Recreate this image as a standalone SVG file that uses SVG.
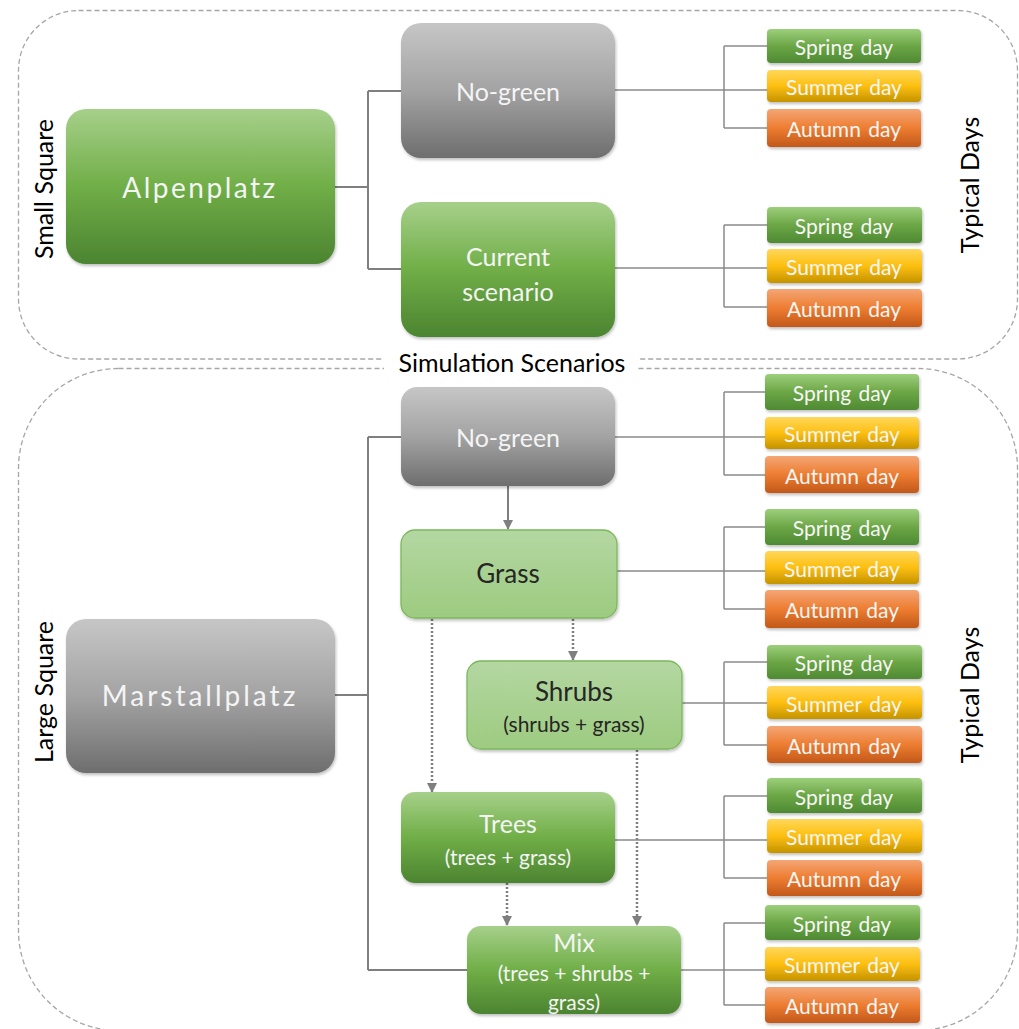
<svg xmlns="http://www.w3.org/2000/svg" width="1019" height="1029" viewBox="0 0 1019 1029">
<defs>
<linearGradient id="gGray" x1="0" y1="0" x2="0" y2="1"><stop offset="0" stop-color="#c6c6c6"/><stop offset="0.5" stop-color="#a3a3a3"/><stop offset="1" stop-color="#6e6e6e"/></linearGradient>
<linearGradient id="gGreen" x1="0" y1="0" x2="0" y2="1"><stop offset="0" stop-color="#a6d08a"/><stop offset="0.5" stop-color="#70ae47"/><stop offset="1" stop-color="#4c8431"/></linearGradient>
<linearGradient id="gLight" x1="0" y1="0" x2="0" y2="1"><stop offset="0" stop-color="#b4d7a2"/><stop offset="1" stop-color="#9dcb80"/></linearGradient>
<linearGradient id="gSpring" x1="0" y1="0" x2="0" y2="1"><stop offset="0" stop-color="#9dcf7c"/><stop offset="0.5" stop-color="#6ca646"/><stop offset="1" stop-color="#4e8a33"/></linearGradient>
<linearGradient id="gSummer" x1="0" y1="0" x2="0" y2="1"><stop offset="0" stop-color="#ffd75a"/><stop offset="0.5" stop-color="#fdbf10"/><stop offset="1" stop-color="#c49300"/></linearGradient>
<linearGradient id="gAutumn" x1="0" y1="0" x2="0" y2="1"><stop offset="0" stop-color="#f4a676"/><stop offset="0.5" stop-color="#ed7d31"/><stop offset="1" stop-color="#c2581a"/></linearGradient>
<filter id="sh" x="-10%" y="-10%" width="120%" height="130%"><feDropShadow dx="1" dy="2" stdDeviation="1.5" flood-color="#000" flood-opacity="0.25"/></filter>
<marker id="ah" viewBox="0 0 10 10" refX="9" refY="5" markerWidth="10" markerHeight="10" markerUnits="userSpaceOnUse" orient="auto"><path d="M0,0 L10,5 L0,10 Z" fill="#7f7f7f"/></marker>
</defs>
<style>
.cont{fill:none;stroke:#a6a6a6;stroke-width:1.3;stroke-dasharray:5 3}
.lbl{font-family:Lato,"Open Sans",sans-serif;fill:#000;font-size:25px;text-anchor:middle;dominant-baseline:central}
.big{font-family:Lato,"Open Sans",sans-serif;fill:#f4f4f4;font-size:28px;text-anchor:middle;dominant-baseline:central}
.wt{font-family:Lato,"Open Sans",sans-serif;fill:#f4f4f4;font-size:25px;text-anchor:middle;dominant-baseline:central}
.dk{font-family:Lato,"Open Sans",sans-serif;fill:#262626;font-size:26px;text-anchor:middle;dominant-baseline:central}
.sub{font-size:21px}
.day{font-family:Lato,"Open Sans",sans-serif;fill:#f6f6f6;font-size:21px;text-anchor:middle;dominant-baseline:central;word-spacing:2px}
.gray{fill:url(#gGray);filter:url(#sh)}
.green{fill:url(#gGreen);filter:url(#sh)}
.light{fill:url(#gLight);stroke:#7cb85c;stroke-width:1.3;filter:url(#sh)}
.sp{fill:url(#gSpring);filter:url(#sh)}
.su{fill:url(#gSummer);filter:url(#sh)}
.au{fill:url(#gAutumn);filter:url(#sh)}
.con{fill:none;stroke:#7f7f7f;stroke-width:2}
.br{fill:none;stroke:#8a8a8a;stroke-width:1.5}
.dot{fill:none;stroke:#7f7f7f;stroke-width:2.5;stroke-dasharray:2 2}
</style>

<g id="containers">
<rect class="cont" x="18.5" y="10.5" width="999" height="348.5" rx="60"/>
<rect class="cont" x="18.5" y="368.5" width="999" height="662" rx="100"/>
<rect x="384" y="350" width="254" height="27" fill="#fff"/>
</g>

<g id="labels">
<text class="lbl" transform="translate(43,189) rotate(-90)">Small Square</text>
<text class="lbl" transform="translate(43,692) rotate(-90)">Large Square</text>
<text class="lbl" transform="translate(969,185) rotate(-90)">Typical Days</text>
<text class="lbl" transform="translate(969,695) rotate(-90)">Typical Days</text>
<text class="lbl" x="512" y="362">Simulation Scenarios</text>
</g>

<g id="connectors">
<path class="con" d="M335,187 H368 M368,91 V269 M368,91 H401 M368,269 H401"/>
<path class="con" d="M335,695 H368 M368,437 V970 M368,437 H401 M368,970 H467"/>
<path class="con" d="M508,486 V529" marker-end="url(#ah)"/>
<path class="dot" d="M432,619 V792" marker-end="url(#ah)"/>
<path class="dot" d="M573,619 V660" marker-end="url(#ah)"/>
<path class="dot" d="M637,750 V925" marker-end="url(#ah)"/>
<path class="dot" d="M507,883 V925" marker-end="url(#ah)"/>
<path class="br" d="M615,90 H767 M724,46 V128 M724,46 H767 M724,128 H767"/>
<path class="br" d="M615,268 H767 M724,225 V307 M724,225 H767 M724,307 H767"/>
<path class="br" d="M615,437 H765 M724,392 V475 M724,392 H765 M724,475 H765"/>
<path class="br" d="M617,571 H765 M724,527 V609 M724,527 H765 M724,609 H765"/>
<path class="br" d="M682,703 H767 M724,662 V745 M724,662 H767 M724,745 H767"/>
<path class="br" d="M615,840 H767 M724,796 V878 M724,796 H767 M724,878 H767"/>
<path class="br" d="M681,970 H765 M724,923 V1005 M724,923 H765 M724,1005 H765"/>
</g>

<g id="node-alpenplatz"><rect class="green" x="66" y="109" width="269" height="155" rx="20"/><text class="big" x="200" y="187" letter-spacing="2.5">Alpenplatz</text></g>
<g id="node-nogreen-top"><rect class="gray" x="401" y="23" width="214" height="135" rx="20"/><text class="wt" x="508" y="91">No-green</text></g>
<g id="node-current"><rect class="green" x="401" y="202" width="214" height="135" rx="20"/><text class="wt" x="508" y="256">Current</text><text class="wt" x="508" y="291">scenario</text></g>

<g id="node-marstallplatz"><rect class="gray" x="66" y="619" width="269" height="154" rx="20"/><text class="big" x="200" y="695" letter-spacing="3">Marstallplatz</text></g>
<g id="node-nogreen-bottom"><rect class="gray" x="401" y="387" width="214" height="99" rx="16"/><text class="wt" x="508" y="437">No-green</text></g>
<g id="node-grass"><rect class="light" x="401" y="530" width="216" height="88" rx="14"/><text class="dk" x="508" y="573">Grass</text></g>
<g id="node-shrubs"><rect class="light" x="467" y="661" width="215" height="88" rx="14"/><text class="dk" x="574" y="691">Shrubs</text><text class="dk sub" x="574" y="723">(shrubs + grass)</text></g>
<g id="node-trees"><rect class="green" x="401" y="792" width="214" height="91" rx="14"/><text class="wt" x="508" y="823">Trees</text><text class="wt sub" x="508" y="856">(trees + grass)</text></g>
<g id="node-mix"><rect class="green" x="467" y="926" width="214" height="88" rx="14"/><text class="wt" x="574" y="942">Mix</text><text class="wt sub" x="574" y="972">(trees + shrubs +</text><text class="wt sub" x="574" y="1001">grass)</text></g>

<g id="days-1"><rect class="sp" x="767" y="29" width="154" height="34" rx="4"/><text class="day" x="844" y="46">Spring day</text><rect class="su" x="767" y="70" width="154" height="32" rx="4"/><text class="day" x="844" y="86">Summer day</text><rect class="au" x="767" y="109" width="154" height="38" rx="4"/><text class="day" x="844" y="128">Autumn day</text></g>
<g id="days-2"><rect class="sp" x="767" y="207" width="155" height="36" rx="4"/><text class="day" x="844" y="225">Spring day</text><rect class="su" x="767" y="249" width="155" height="34" rx="4"/><text class="day" x="844" y="266">Summer day</text><rect class="au" x="767" y="289" width="155" height="38" rx="4"/><text class="day" x="844" y="308">Autumn day</text></g>
<g id="days-3"><rect class="sp" x="765" y="374" width="154" height="36" rx="4"/><text class="day" x="842" y="392">Spring day</text><rect class="su" x="765" y="417" width="154" height="32" rx="4"/><text class="day" x="842" y="433">Summer day</text><rect class="au" x="765" y="456" width="154" height="37" rx="4"/><text class="day" x="842" y="475">Autumn day</text></g>
<g id="days-4"><rect class="sp" x="765" y="509" width="154" height="36" rx="4"/><text class="day" x="842" y="527">Spring day</text><rect class="su" x="765" y="551" width="154" height="33" rx="4"/><text class="day" x="842" y="568">Summer day</text><rect class="au" x="765" y="590" width="154" height="38" rx="4"/><text class="day" x="842" y="609">Autumn day</text></g>
<g id="days-5"><rect class="sp" x="767" y="645" width="155" height="34" rx="4"/><text class="day" x="844" y="662">Spring day</text><rect class="su" x="767" y="686" width="155" height="33" rx="4"/><text class="day" x="844" y="703">Summer day</text><rect class="au" x="767" y="726" width="155" height="37" rx="4"/><text class="day" x="844" y="745">Autumn day</text></g>
<g id="days-6"><rect class="sp" x="767" y="778" width="155" height="35" rx="4"/><text class="day" x="844" y="796">Spring day</text><rect class="su" x="767" y="819" width="155" height="34" rx="4"/><text class="day" x="844" y="836">Summer day</text><rect class="au" x="767" y="860" width="155" height="36" rx="4"/><text class="day" x="844" y="878">Autumn day</text></g>
<g id="days-7"><rect class="sp" x="765" y="905" width="155" height="35" rx="4"/><text class="day" x="842" y="923">Spring day</text><rect class="su" x="765" y="947" width="155" height="34" rx="4"/><text class="day" x="842" y="964">Summer day</text><rect class="au" x="765" y="987" width="155" height="36" rx="4"/><text class="day" x="842" y="1005">Autumn day</text></g>
</svg>
